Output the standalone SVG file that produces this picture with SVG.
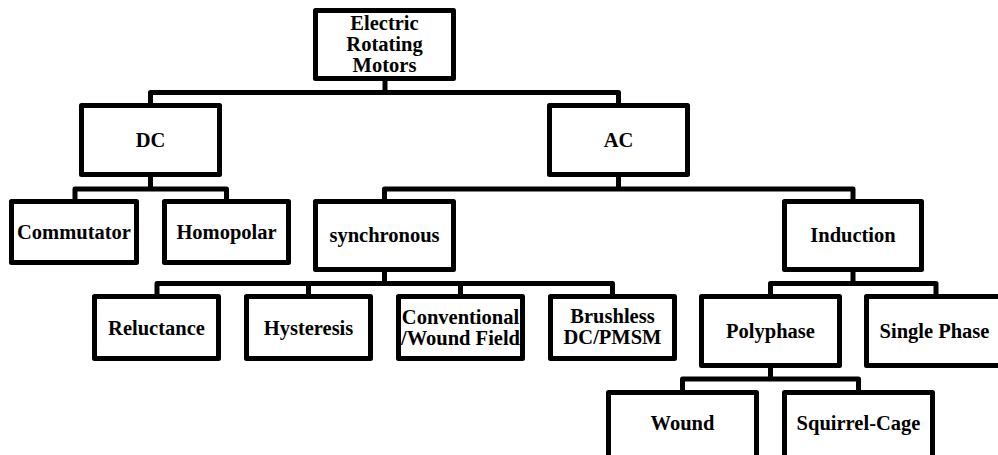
<svg xmlns="http://www.w3.org/2000/svg" width="998" height="455" viewBox="0 0 998 455">
<style>
.box{fill:#fff;stroke:#000;stroke-width:5;stroke-linejoin:round}
.con{fill:none;stroke:#000;stroke-width:5;stroke-linejoin:round}
text{font-family:"Liberation Serif","Times New Roman",serif;font-weight:bold;font-size:20.5px;text-anchor:middle;fill:#000}
</style>
<rect width="998" height="455" fill="#fff"/>
<g id="connectors">
<path class="con" d="M385,78 V92.5 M150.5,105 V92.5 H618.5 V105"/>
<path class="con" d="M150.5,175 V189 M75,201 V189 H226.5 V201"/>
<path class="con" d="M618.5,175 V189 M384.5,201 V189 H853 V201"/>
<path class="con" d="M384.5,270 V283.5 M157,296 V283.5 H612.5 V296 M308.5,283.5 V296 M460.5,283.5 V296"/>
<path class="con" d="M853,270 V283.5 M770.5,296 V283.5 H936 V296"/>
<path class="con" d="M770.5,366 V379 M682.5,392 V379 H858.5 V392"/>
</g>
<g id="root"><rect class="box" x="315.5" y="10.5" width="138" height="68"/>
<text x="384.5" y="30">Electric</text><text x="384.5" y="51">Rotating</text><text x="384.5" y="72">Motors</text></g>
<g id="dc"><rect class="box" x="81.5" y="105.5" width="138" height="69"/><text x="150.5" y="147">DC</text></g>
<g id="ac"><rect class="box" x="549.5" y="105.5" width="138" height="69"/><text x="618.5" y="147">AC</text></g>
<g id="commutator"><rect class="box" x="11.5" y="201.5" width="125" height="61"/><text x="74" y="239">Commutator</text></g>
<g id="homopolar"><rect class="box" x="164.5" y="201.5" width="124" height="61"/><text x="226.5" y="239">Homopolar</text></g>
<g id="synchronous"><rect class="box" x="315.5" y="201.5" width="138" height="68"/><text x="384.5" y="242">synchronous</text></g>
<g id="induction"><rect class="box" x="784.5" y="201.5" width="137" height="68"/><text x="853" y="242">Induction</text></g>
<g id="reluctance"><rect class="box" x="94.5" y="296.5" width="124" height="62"/><text x="156.5" y="334.5">Reluctance</text></g>
<g id="hysteresis"><rect class="box" x="246.5" y="296.5" width="124" height="62"/><text x="308.5" y="334.5">Hysteresis</text></g>
<g id="conventional"><rect class="box" x="398.5" y="296.5" width="124" height="62"/><text x="460.5" y="323.5">Conventional</text><text x="460.5" y="345">/Wound Field</text></g>
<g id="brushless"><rect class="box" x="550.5" y="296.5" width="124" height="62"/><text x="612.5" y="323">Brushless</text><text x="612.5" y="344">DC/PMSM</text></g>
<g id="polyphase"><rect class="box" x="701.5" y="296.5" width="138" height="69"/><text x="770.5" y="337.5">Polyphase</text></g>
<g id="singlephase"><rect class="box" x="866.5" y="296.5" width="138" height="69"/><text x="934.5" y="337.5">Single Phase</text></g>
<g id="wound"><rect class="box" x="608.5" y="392.5" width="148" height="70"/><text x="682.5" y="430">Wound</text></g>
<g id="squirrelcage"><rect class="box" x="784.5" y="392.5" width="148" height="70"/><text x="858.5" y="430">Squirrel-Cage</text></g>
</svg>
